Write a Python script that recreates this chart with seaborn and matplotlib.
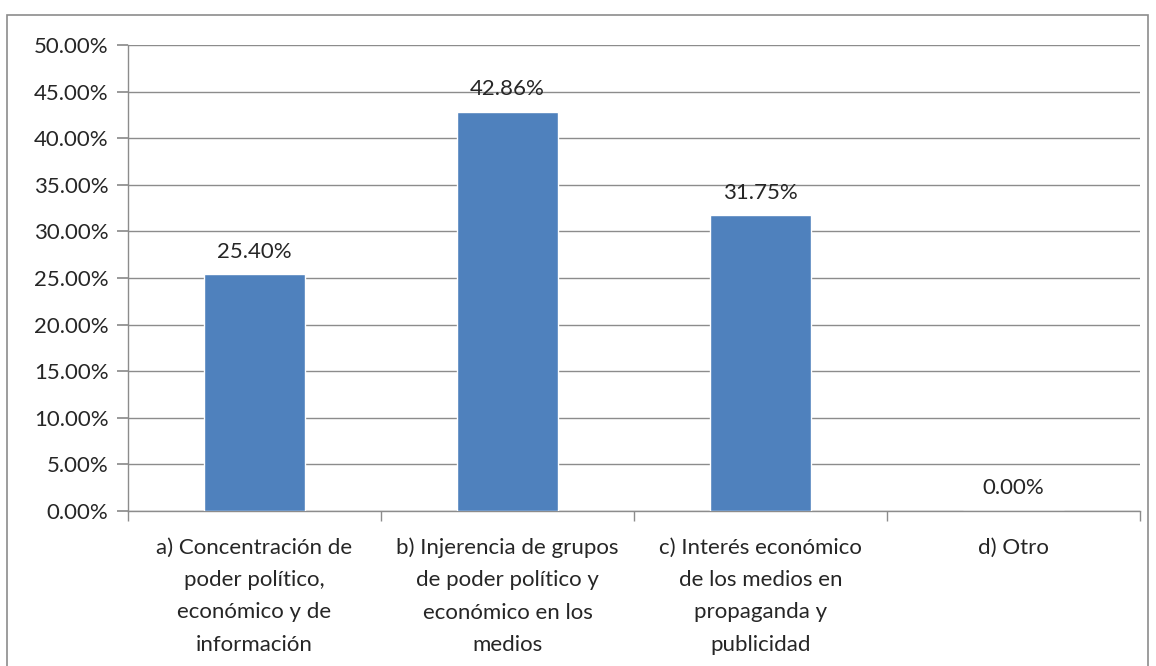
import matplotlib
matplotlib.use("Agg")
import matplotlib.pyplot as plt
import matplotlib.ticker as ticker
import seaborn as sns
import pandas as pd
from matplotlib.patches import Rectangle

categories = [
    "a) Concentración de\npoder político,\neconómico y de\ninformación",
    "b) Injerencia de grupos\nde poder político y\neconómico en los\nmedios",
    "c) Interés económico\nde los medios en\npropaganda y\npublicidad",
    "d) Otro",
]
values = [25.40, 42.86, 31.75, 0.00]

df = pd.DataFrame({"cat": categories, "pct": values})

sns.set_theme(style="white")
plt.rcParams["font.family"] = ["Lato", "DejaVu Sans"]

FS = 16
W, H = 1156, 666
fig = plt.figure(figsize=(W / 100, H / 100), dpi=100)
ax = fig.add_axes([128 / W, 1 - 511 / H, (1140 - 128) / W, (511 - 45) / H])

sns.barplot(data=df, x="cat", y="pct", color="#4F81BD", width=0.4,
            saturation=1, ax=ax, zorder=3)

ax.set_ylim(0, 50)
ax.set_xlim(-0.5, 3.5)
ax.yaxis.set_major_locator(ticker.MultipleLocator(5))
ax.yaxis.set_major_formatter(ticker.FuncFormatter(lambda v, _: f"{v:.2f}%"))
ax.grid(axis="y", color="#8C8C8C", lw=1, zorder=0)
ax.set_xlabel("")
ax.set_ylabel("")

for s in ["top", "right"]:
    ax.spines[s].set_visible(False)
for s in ["left", "bottom"]:
    ax.spines[s].set_color("#8C8C8C")
    ax.spines[s].set_linewidth(1)

ax.tick_params(axis="y", length=8, color="#8C8C8C", labelsize=FS, pad=6,
               left=True, direction="out")
ax.tick_params(axis="x", length=0, labelsize=FS, pad=19)
ax.set_xticks(range(len(categories)))
ax.set_xticklabels(categories, linespacing=1.78, va="top")

# category boundary tick marks
ax.set_xticks([i - 0.5 for i in range(len(categories) + 1)], minor=True)
ax.tick_params(axis="x", which="minor", length=7, color="#8C8C8C",
               bottom=True, direction="out")

for i, v in enumerate(values):
    ax.annotate(f"{v:.2f}%", (i, v), xytext=(0, 9), textcoords="offset points",
                ha="center", va="bottom", fontsize=FS)

fig.patches.append(Rectangle((7 / W, -0.01), (1148 - 7) / W, 1 - 15 / H + 0.01,
                             transform=fig.transFigure, fill=False,
                             edgecolor="#8C8C8C", lw=1.2))

fig.savefig("out.png", dpi=100)
